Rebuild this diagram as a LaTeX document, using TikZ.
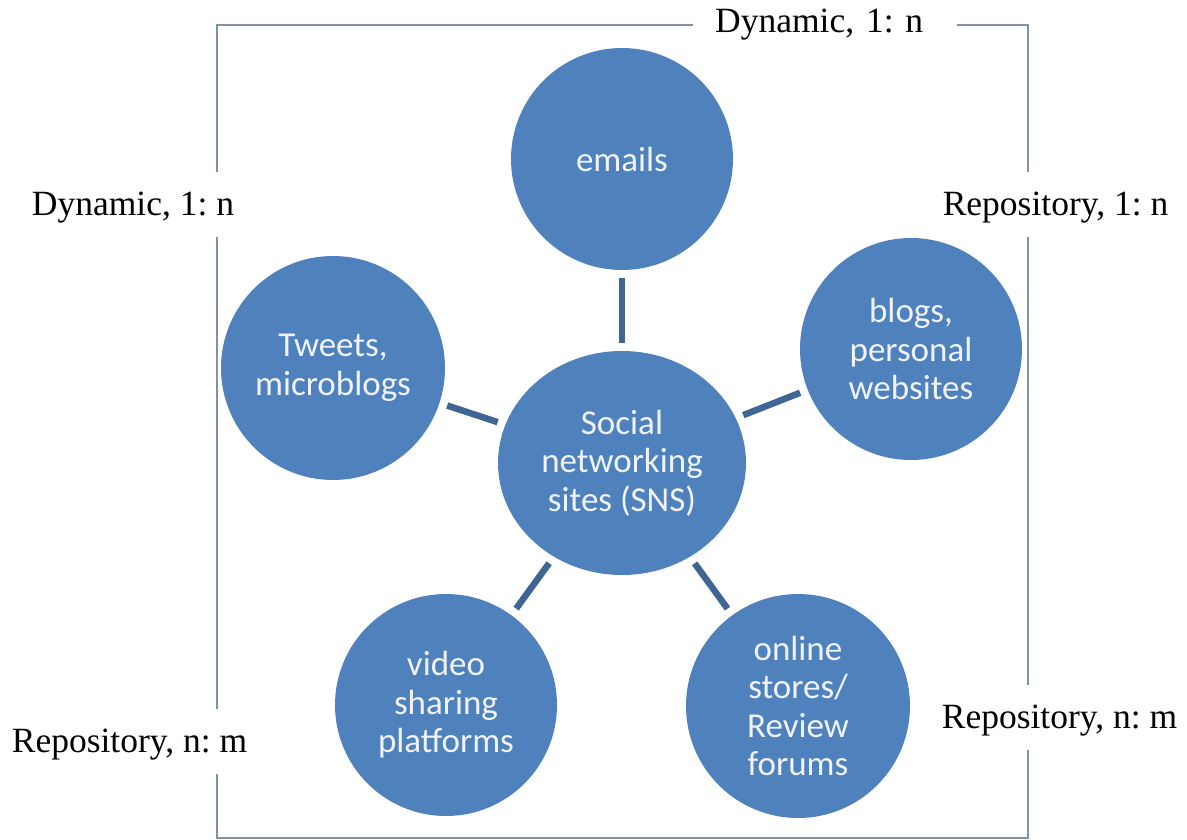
\documentclass[tikz,border=0pt]{standalone}
\usepackage{fontspec}
\setmainfont{Liberation Serif}
\newfontfamily\bubblefont{Carlito}
\usetikzlibrary{shapes.geometric}
\frenchspacing
\definecolor{bubble}{RGB}{79,129,189}
\definecolor{spoke}{RGB}{62,101,148}
\definecolor{frameline}{RGB}{128,145,170}
\definecolor{bubbletext}{RGB}{240,244,250}
\tikzset{
  bubble/.style={circle, fill=bubble, draw=none, inner sep=0pt, minimum size=#1,
    align=center, text=bubbletext, font=\bubblefont\fontsize{35}{38.5}\selectfont},
  hub/.style={ellipse, fill=bubble, draw=none, inner sep=0pt,
    minimum width=248pt, minimum height=224pt,
    align=center, text=bubbletext, font=\bubblefont\fontsize{35}{38.5}\selectfont},
  spokeline/.style={draw=spoke, line width=6.5pt, shorten <=8pt, shorten >=8pt},
  tag/.style={fill=white, inner ysep=0pt, inner xsep=14pt, anchor=base,
    text height=43pt, text depth=22pt,
    font=\fontsize{35.5}{40}\selectfont, text=black}
}
\begin{document}
\begin{tikzpicture}[x=1pt,y=-1pt]
  \useasboundingbox (0,0) rectangle (1187,840);
  % outer frame
  \draw[frameline, line width=2pt] (217,25) rectangle (1028,838);
  % category labels sitting on the frame
  \node[tag, anchor=base west, inner xsep=22pt, text width=220pt, align=left]
    (tagtop) at (693,33) {Dynamic, 1: n};
  \node[tag] (tagleft) at (133,215) {Dynamic, 1: n};
  \node[tag] (tagright) at (1055.5,215) {Repository, 1: n};
  \node[tag] (tagbl) at (129.5,752) {Repository, n: m};
  \node[tag] (tagbr) at (1059.5,728) {Repository, n: m};
  % hub and surrounding bubbles
  \node[hub] (sns) at (622,463) {Social\\networking\\sites (SNS)};
  \node[bubble=222pt] (emails) at (622,159) {emails};
  \node[bubble=224pt] (tweets) at (333,368) {Tweets,\\microblogs};
  \node[bubble=222pt] (blogs) at (911,349) {blogs,\\personal\\websites};
  \node[bubble=222pt] (video) at (446,705) {video\\sharing\\platforms};
  \node[bubble=224pt] (stores) at (798,706) {online\\stores/\\Review\\forums};
  % spokes
  \draw[spokeline] (sns) -- (emails);
  \draw[spokeline] (sns) -- (tweets);
  \draw[spokeline] (sns) -- (blogs);
  \draw[spokeline] (sns) -- (video);
  \draw[spokeline] (sns) -- (stores);
\end{tikzpicture}
\end{document}
